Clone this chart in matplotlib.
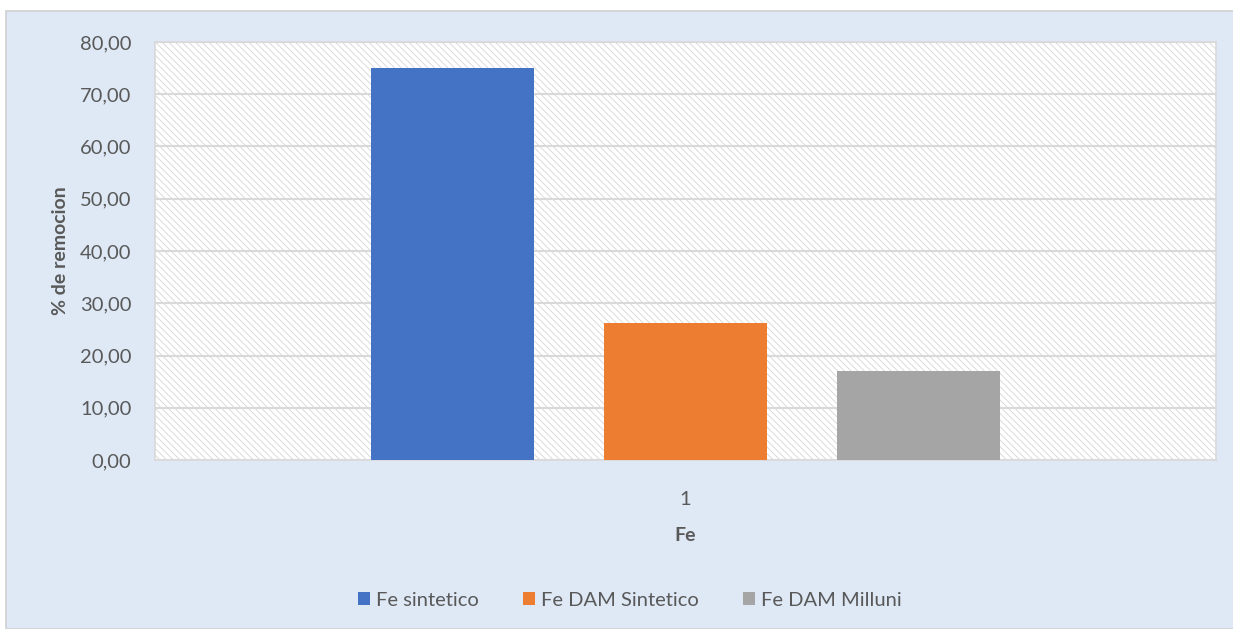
import matplotlib.pyplot as plt
from matplotlib.patches import Rectangle

plt.rcParams['font.family'] = ['Lato', 'DejaVu Sans']
plt.rcParams['hatch.linewidth'] = 0.6

# data
categories = ["1"]
series_names = ["Fe sintetico", "Fe DAM Sintetico", "Fe DAM Milluni"]
values = [75.0, 26.2, 17.0]
colors = ["#4472C4", "#ED7D31", "#A5A5A5"]

fig = plt.figure(figsize=(12.33, 6.29), dpi=100)
fig.patch.set_facecolor("white")

# light blue chart panel
panel = Rectangle((6 / 1233, 0), 1.0, 1 - 11 / 629, transform=fig.transFigure,
                  facecolor="#DEE9F5", edgecolor="#D0D0D0", linewidth=1.2, zorder=-10)
fig.patches.append(panel)

ax = fig.add_axes([155 / 1233, 1 - 460 / 629, (1216 - 155) / 1233, (460 - 42) / 629])
ax.set_facecolor("white")
bg = Rectangle((0, 0), 1, 1, transform=ax.transAxes, facecolor="white",
               edgecolor="#D6D6D6", hatch="\\\\\\\\\\", linewidth=0, zorder=0)
ax.add_patch(bg)

width = 0.7
offsets = [-1, 0, 1]
for name, v, c, off in zip(series_names, values, colors, offsets):
    ax.bar(off, v, width=width, color=c, label=name, zorder=3)

ax.set_ylim(0, 80)
ax.set_xlim(-2.277, 2.277)
ax.set_yticks(range(0, 81, 10))
ax.set_yticklabels([f"{t:.2f}".replace(".", ",") for t in range(0, 81, 10)])
ax.set_xticks([0])
ax.set_xticklabels(categories)
ax.yaxis.grid(True, color="#D9D9D9", linewidth=1.5, zorder=1)
ax.set_axisbelow(False)
for sp in ax.spines.values():
    sp.set_color("#D9D9D9")
    sp.set_linewidth(1.2)
ax.tick_params(axis="both", length=0, labelsize=14.5, labelcolor="#595959")
ax.tick_params(axis="y", pad=17)
ax.tick_params(axis="x", pad=22)

ax.set_ylabel("% de remocion", fontsize=14, fontweight="bold", color="#595959", labelpad=8)
ax.set_xlabel("Fe", fontsize=14, fontweight="bold", color="#595959", labelpad=14)

fig.legend(loc="center", bbox_to_anchor=(0.511, 0.046), ncol=3, frameon=False,
           fontsize=14.5, handlelength=0.6, handleheight=0.6, handletextpad=0.3,
           columnspacing=2.2, labelcolor="#595959")

fig.savefig("out.png", dpi=100)
